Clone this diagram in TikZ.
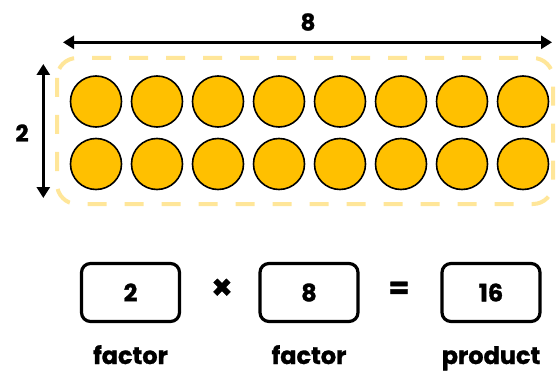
\documentclass[tikz,border=0pt]{standalone}
\usepackage{fontspec}
\setmainfont{Poppins}[BoldFeatures={FakeBold=1.2}]
\usetikzlibrary{arrows.meta}
\definecolor{dotyel}{HTML}{FFC000}
\definecolor{dashyel}{HTML}{FFE699}
\tikzset{
  dotc/.style={circle, draw=black, line width=1.6pt, fill=dotyel, minimum size=51pt, inner sep=0pt},
  numbox/.style={draw=black, line width=3.2pt, rounded corners=9pt, minimum width=98pt, minimum height=58pt, font=\bfseries\fontsize{24}{26}\selectfont},
  lbl/.style={font=\bfseries\fontsize{24}{26}\selectfont, inner sep=1pt},
  num/.style={font=\bfseries\fontsize{23}{25}\selectfont},
  dim/.style={line width=3pt, {Triangle[length=11pt,width=13pt]}-{Triangle[length=11pt,width=13pt]}},
}
\begin{document}
\begin{tikzpicture}[x=1pt,y=-1pt]
\useasboundingbox (0,0) rectangle (556,374);
\draw[draw=dashyel, line width=4pt, dash pattern=on 19pt off 18pt, rounded corners=20pt] (57,58) rectangle (553,204);
\foreach \i in {0,...,7} {
  \node[dotc] (a\i) at ({96+61*\i},101.5) {};
  \node[dotc] (b\i) at ({96+61*\i},164) {};
}
\coordinate (hl) at (63,42.3);
\coordinate (hr) at (552,42.3);
\draw[dim] (hl) -- (hr);
\node[num] (l8) at (308,22) {8};
\coordinate (vt) at (43.3,64);
\coordinate (vb) at (43.3,198);
\draw[dim] (vt) -- (vb);
\node[num] (l2) at (22,133) {2};
\node[numbox] (f1) at (130.5,292.5) {2};
\node[numbox] (f2) at (309,292.5) {8};
\node[numbox] (p) at (491,292.5) {16};
\node[font=\bfseries\fontsize{34}{36}\selectfont] (times) at (222,289) {×};
\node[font=\bfseries\fontsize{30}{32}\selectfont] (eq) at (399,290) {=};
\node[lbl, anchor=base] (t1) at (130.5,364) {factor};
\node[lbl, anchor=base] (t2) at (309,364) {factor};
\node[lbl, anchor=base] (t3) at (491,364) {product};
\end{tikzpicture}
\end{document}
